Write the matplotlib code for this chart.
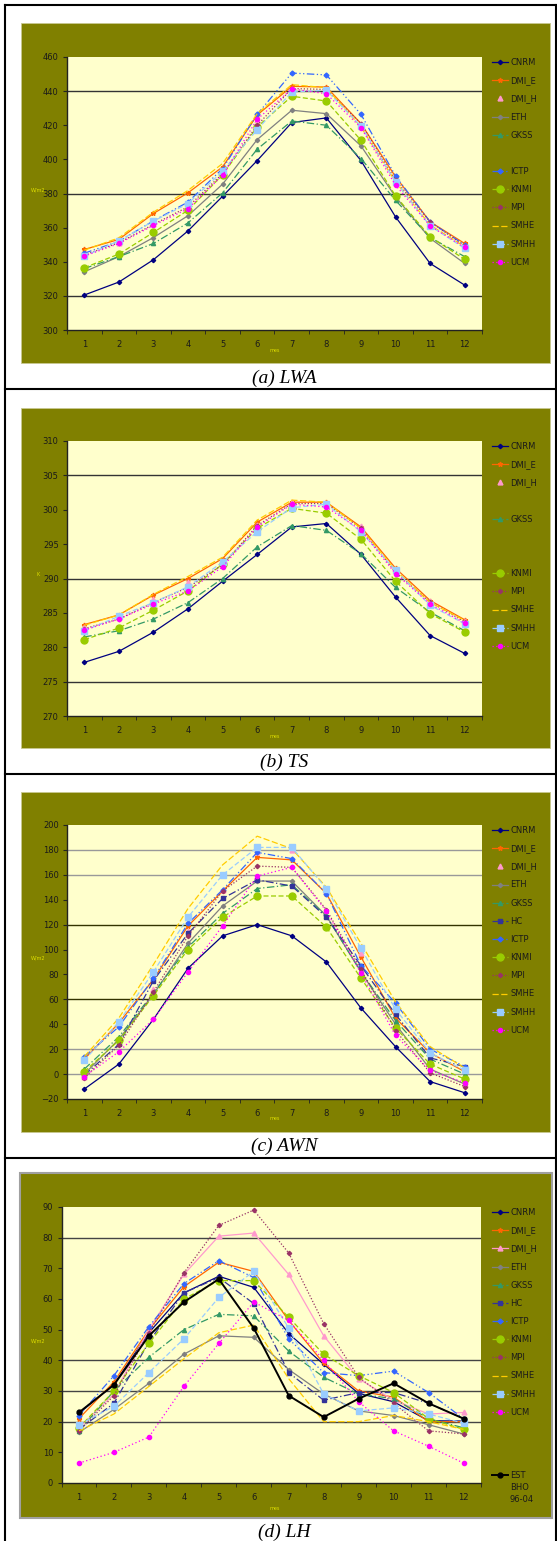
import matplotlib.pyplot as plt
from matplotlib.patches import Rectangle
from matplotlib.lines import Line2D

W, H = 557, 1541
months = [1, 2, 3, 4, 5, 6, 7, 8, 9, 10, 11, 12]

models = ['CNRM', 'DMI_E', 'DMI_H', 'ETH', 'GKSS', 'HC', 'ICTP', 'KNMI', 'MPI', 'SMHE', 'SMHH', 'UCM']

# (a) LWA  (no HC)
lwa = {
    'CNRM':  [320.5, 328.1, 341.2, 358.1, 378.4, 399.3, 421.6, 424.3, 399.3, 366.3, 339.0, 326.3],
    'DMI_E': [347.2, 353.1, 368.3, 380.4, 395.6, 426.0, 442.8, 442.4, 421.0, 389.8, 363.4, 350.7],
    'DMI_H': [344.0, 351.0, 362.0, 372.0, 391.0, 423.0, 441.0, 440.0, 421.0, 386.0, 362.0, 349.0],
    'ETH':   [334.1, 343.0, 354.2, 367.0, 385.5, 411.6, 428.8, 426.8, 407.9, 378.0, 353.7, 339.0],
    'GKSS':  [336.0, 343.0, 350.7, 362.8, 380.4, 406.0, 422.5, 420.0, 400.5, 376.0, 354.2, 343.0],
    'ICTP':  [345.0, 352.0, 364.0, 375.0, 394.6, 426.4, 450.6, 449.5, 426.4, 390.3, 363.4, 349.8],
    'KNMI':  [336.5, 344.5, 357.2, 370.2, 391.0, 419.0, 437.0, 434.2, 411.2, 378.6, 354.6, 341.4],
    'MPI':   [344.0, 351.1, 361.9, 372.2, 391.7, 420.0, 441.5, 441.0, 421.0, 387.8, 363.4, 349.2],
    'SMHE':  [346.8, 354.0, 369.1, 381.8, 397.6, 426.8, 443.8, 442.0, 419.0, 386.8, 361.5, 348.8],
    'SMHH':  [343.3, 352.3, 363.8, 374.1, 393.1, 417.5, 439.5, 440.5, 419.5, 386.8, 361.0, 347.8],
    'UCM':   [343.3, 350.7, 361.3, 371.1, 390.7, 423.5, 441.3, 438.5, 418.6, 384.9, 361.0, 348.4],
}

# (b) TS  (no ETH, HC, ICTP)
ts = {
    'CNRM':  [277.8, 279.4, 282.2, 285.6, 289.6, 293.5, 297.5, 298.0, 293.5, 287.3, 281.7, 279.1],
    'DMI_E': [283.3, 284.7, 287.6, 290.0, 292.9, 298.2, 301.1, 301.1, 297.5, 291.5, 286.8, 284.0],
    'DMI_H': [283.0, 284.4, 287.0, 289.5, 292.5, 297.8, 301.2, 301.0, 297.6, 291.2, 286.7, 283.8],
    'GKSS':  [281.5, 282.4, 284.1, 286.5, 290.0, 294.6, 297.7, 297.0, 293.6, 288.7, 285.1, 282.4],
    'KNMI':  [281.1, 282.8, 285.4, 288.2, 292.1, 297.3, 300.2, 299.5, 295.7, 289.6, 284.9, 282.2],
    'MPI':   [282.7, 284.1, 286.5, 288.7, 292.0, 297.7, 300.9, 300.9, 297.3, 290.9, 286.6, 283.7],
    'SMHE':  [283.2, 284.7, 287.7, 290.3, 293.1, 298.5, 301.4, 301.1, 297.3, 291.2, 286.5, 283.9],
    'SMHH':  [282.4, 284.5, 286.5, 288.8, 292.4, 296.8, 300.3, 300.8, 296.8, 291.2, 286.1, 283.4],
    'UCM':   [282.5, 284.1, 286.3, 288.2, 291.7, 297.5, 300.8, 300.4, 297.0, 290.7, 286.3, 283.5],
}

# (c) AWN
awn = {
    'CNRM':  [-12, 8, 44, 85, 111, 120, 111, 90, 53, 22, -6, -15],
    'DMI_E': [12, 41, 76, 119, 147, 174, 172, 145, 94, 45, 17, 2],
    'DMI_H': [-2, 25, 68, 115, 148, 178, 180, 147, 97, 50, 5, -8],
    'ETH':   [0, 28, 64, 105, 135, 155, 155, 127, 82, 40, 4, -8],
    'GKSS':  [4, 30, 65, 102, 129, 149, 152, 127, 82, 43, 12, 0],
    'HC':    [-1, 24, 75, 113, 141, 156, 151, 126, 87, 48, 13, 6],
    'ICTP':  [14, 38, 77, 121, 148, 178, 173, 145, 87, 57, 20, 6],
    'KNMI':  [2, 27, 63, 100, 126, 143, 143, 118, 77, 37, 8, -4],
    'MPI':   [-3, 23, 66, 111, 147, 167, 166, 132, 84, 35, 1, -10],
    'SMHE':  [14, 45, 88, 133, 168, 191, 181, 150, 105, 58, 22, 5],
    'SMHH':  [11, 42, 82, 126, 160, 182, 182, 149, 101, 52, 17, 3],
    'UCM':   [-2, 18, 44, 82, 119, 159, 166, 131, 81, 31, 3, -7],
}

# (d) LH
lh = {
    'CNRM':  [22.7, 32.2, 49.0, 62.0, 67.4, 63.8, 48.7, 38.7, 29.2, 26.5, 20.3, 20.2],
    'DMI_E': [21.0, 33.0, 50.0, 64.0, 72.0, 69.0, 53.0, 39.0, 30.0, 28.0, 20.0, 20.0],
    'DMI_H': [18.0, 29.0, 50.0, 68.0, 80.5, 81.5, 68.0, 48.0, 34.0, 27.0, 22.5, 23.0],
    'ETH':   [16.5, 24.0, 32.5, 42.0, 48.0, 47.5, 37.0, 29.0, 23.5, 22.0, 19.0, 16.0],
    'GKSS':  [17.0, 30.0, 41.0, 50.0, 55.0, 54.5, 43.0, 34.5, 29.0, 27.5, 21.0, 18.0],
    'HC':    [17.5, 26.0, 46.0, 62.0, 67.0, 58.5, 36.0, 27.0, 29.5, 29.5, 26.0, 21.0],
    'ICTP':  [22.0, 35.0, 51.0, 65.0, 72.5, 67.0, 47.0, 36.0, 35.0, 36.5, 29.5, 21.0],
    'KNMI':  [18.0, 30.0, 45.5, 60.0, 66.0, 66.0, 54.0, 42.0, 35.0, 29.5, 21.0, 17.5],
    'MPI':   [17.0, 28.5, 49.0, 68.5, 84.0, 89.0, 75.0, 52.0, 34.5, 26.0, 17.0, 16.0],
    'SMHE':  [17.0, 22.5, 31.5, 40.5, 49.0, 51.5, 34.0, 20.0, 20.0, 22.0, 20.0, 17.5],
    'SMHH':  [19.0, 25.0, 36.0, 47.0, 60.5, 69.0, 50.5, 29.0, 23.5, 24.5, 22.5, 19.5],
    'UCM':   [6.5, 10.0, 15.0, 31.5, 45.5, 59.0, 53.0, 40.0, 26.5, 17.0, 12.0, 6.5],
}
est_bho = [23.0, 32.0, 48.0, 59.0, 66.5, 50.5, 28.5, 21.5, 27.5, 32.5, 26.0, 21.0]

styles = {
    'CNRM':  dict(color='#000080', ls='-', marker='D', ms=2.2),
    'DMI_E': dict(color='#FF6600', ls='-', marker='*', ms=3.5),
    'DMI_H': dict(color='#FF99CC', ls='-', marker='^', ms=3.5),
    'ETH':   dict(color='#808080', ls='-', marker='D', ms=2.2),
    'GKSS':  dict(color='#339966', ls=(0, (6, 2, 1, 2)), marker='^', ms=3),
    'HC':    dict(color='#333399', ls=(0, (6, 2, 1, 2)), marker='s', ms=3),
    'ICTP':  dict(color='#3366FF', ls=(0, (6, 2, 1, 2, 1, 2)), marker='D', ms=2.5),
    'KNMI':  dict(color='#99CC00', ls=(0, (4, 2)), marker='o', ms=5),
    'MPI':   dict(color='#993366', ls=(0, (1, 1.5)), marker='D', ms=2.2),
    'SMHE':  dict(color='#FFCC00', ls=(0, (5, 2)), marker=None, ms=0),
    'SMHH':  dict(color='#99CCFF', ls=(0, (4, 2)), marker='s', ms=5),
    'UCM':   dict(color='#FF00FF', ls=(0, (1, 2)), marker='o', ms=3),
}

# panels: data, ylim, yticks, grid lines, y label, caption, olive box, plot box
panels = [
    dict(data=lwa, ylim=(300, 460), step=20,
         grid=[(320, '#333333'), (380, '#333333'), (440, '#333333')],
         ylabel='W/m2', caption='(a) LWA', nolines=['DMI_H'],
         olive=(21, 23, 550, 363), box=(67, 57, 482, 330), cap_y=378),
    dict(data=ts, ylim=(270, 310), step=5,
         grid=[(275, '#333333'), (290, '#333333'), (305, '#333333')],
         ylabel='K', caption='(b) TS', nolines=['DMI_H'],
         olive=(21, 408, 550, 748), box=(67, 441, 482, 716), cap_y=762),
    dict(data=awn, ylim=(-20, 200), step=20,
         grid=[(0, '#999999'), (20, '#999999'), (60, '#333300'), (120, '#333300'),
               (160, '#999999'), (180, '#999999')],
         ylabel='W/m2', caption='(c) AWN', nolines=['DMI_H'],
         olive=(21, 792, 550, 1132), box=(67, 825, 482, 1099), cap_y=1146),
    dict(data=lh, ylim=(0, 90), step=10,
         grid=[(20, '#444444'), (30, '#444444'), (40, '#444444'), (80, '#444444')],
         ylabel='W/m2', caption='(d) LH', nolines=[],
         olive=(19.5, 1173, 552, 1518), box=(61.5, 1207, 481, 1483), cap_y=1532),
]


def frac(x0, y0, x1, y1):
    return [x0 / W, 1 - y1 / H, (x1 - x0) / W, (y1 - y0) / H]


fig = plt.figure(figsize=(W / 100, H / 100), dpi=100)
fig.patch.set_facecolor('white')

# table borders
for y in [5, 389, 774, 1158]:
    fig.add_artist(Line2D([5 / W, 556 / W], [1 - y / H, 1 - y / H], color='black', lw=1.5))
fig.add_artist(Line2D([5 / W, 5 / W], [1 - 5 / H, 0], color='black', lw=1.5))
fig.add_artist(Line2D([555.5 / W, 555.5 / W], [1 - 5 / H, 0], color='black', lw=1.5))

for i, p in enumerate(panels):
    ox0, oy0, ox1, oy1 = p['olive']
    r = frac(ox0, oy0, ox1, oy1)
    edge = '#A0A0A0' if i == 3 else '#C8C890'
    fig.add_artist(Rectangle((r[0], r[1]), r[2], r[3], transform=fig.transFigure,
                             facecolor='#808000', edgecolor=edge, lw=1.5 if i == 3 else 0.6,
                             zorder=-10))

    ax = fig.add_axes(frac(*p['box']))
    ax.set_facecolor('#FFFFCC')
    for g, c in p['grid']:
        ax.axhline(g, color=c, lw=1.0, zorder=1)

    handles = []
    for m in models:
        if m not in p['data']:
            handles.append(Line2D([], [], ls='none', label=' '))
            continue
        st = styles[m]
        ls = 'none' if m in p['nolines'] else st['ls']
        line, = ax.plot(months, p['data'][m], color=st['color'], ls=ls, lw=0.9,
                        marker=st['marker'], ms=st['ms'], mec=st['color'],
                        mfc=st['color'], label=m, zorder=3)
        handles.append(line)

    ax.set_xlim(0.5, 12.5)
    ax.set_ylim(*p['ylim'])
    lo, hi = p['ylim']
    ax.set_yticks(list(range(lo, hi + 1, p['step'])))
    ax.set_xticks(months)
    ax.set_xticks([k + 0.5 for k in range(0, 13)], minor=True)
    ax.tick_params(axis='x', which='major', length=0, pad=7, labelsize=6, labelcolor='#1a1a1a')
    ax.tick_params(axis='x', which='minor', length=3, direction='out', color='#222222')
    ax.tick_params(axis='y', length=3, direction='out', pad=3, labelsize=6,
                   labelcolor='#1a1a1a', color='#222222')
    for s in ['top', 'right']:
        ax.spines[s].set_visible(False)
    for s in ['left', 'bottom']:
        ax.spines[s].set_color('#222222')
        ax.spines[s].set_linewidth(1.0)

    bx0, by0, bx1, by1 = p['box']
    fig.text(38 / W, 1 - ((by0 + by1) / 2 - 4) / H, p['ylabel'], color='#DDDD00',
             fontsize=3.5, ha='center', va='center')
    xl_y = by1 + 20 if i < 3 else by1 + 25
    fig.text(275 / W, 1 - xl_y / H, 'mes', color='#DDDD00', fontsize=3.5,
             ha='center', va='center')

    leg = ax.legend(handles=handles, loc='upper left',
                    bbox_to_anchor=(492 / W, 1 - (by0 + 1) / H),
                    bbox_transform=fig.transFigure, frameon=False, fontsize=6,
                    handlelength=1.9, handletextpad=0.3, labelspacing=1.1,
                    borderpad=0, borderaxespad=0, labelcolor='#1a1a1a')

    if i == 3:
        ax.plot(months, est_bho, color='black', lw=1.4, marker='o', ms=3.5, zorder=4)
        ax.add_artist(leg)
        est_h = Line2D([], [], color='black', lw=1.4, marker='o', ms=3.5)
        ax.legend(handles=[est_h], labels=['EST'], loc='upper left',
                  bbox_to_anchor=(492 / W, 1 - 1471 / H), bbox_transform=fig.transFigure,
                  frameon=False, fontsize=6, handlelength=1.9, handletextpad=0.3,
                  borderpad=0, borderaxespad=0, labelcolor='#1a1a1a')
        fig.text(510 / W, 1 - 1488 / H, 'BHO', fontsize=6, color='#1a1a1a', va='center')
        fig.text(510 / W, 1 - 1500 / H, '96-04', fontsize=6, color='#1a1a1a', va='center')

    fig.text(284 / W, 1 - p['cap_y'] / H, p['caption'], family='Liberation Serif',
             style='italic', fontsize=14, ha='center', va='center')

fig.savefig('out.png', dpi=100)
